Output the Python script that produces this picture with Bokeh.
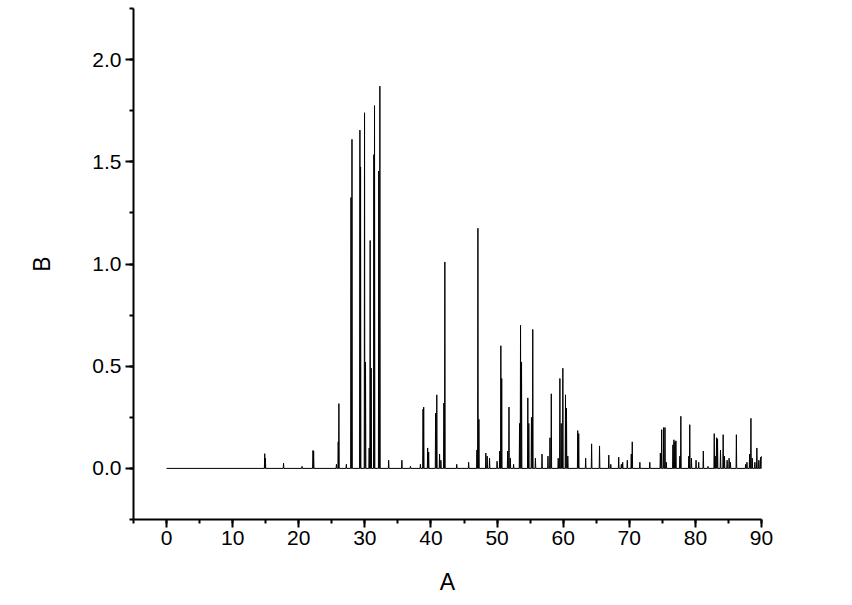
from bokeh.plotting import figure
from bokeh.models import Range1d, SingleIntervalTicker, NumeralTickFormatter, ColumnDataSource
from bokeh.embed import file_html
from bokeh.resources import INLINE

# Peak positions (A) and heights (B)
peak_pos = [14.85, 14.95, 17.7, 20.5, 22.15, 22.25, 25.7, 25.97, 26.07, 27.2,
            27.9, 28.05, 29.25, 29.35, 29.95, 30.1, 30.65, 30.8, 30.96,
            31.36, 31.46, 32.1, 32.27, 33.6, 35.6, 36.9, 38.4, 38.8, 38.9,
            39.5, 39.65, 40.7, 40.88, 41.3, 41.5, 41.95, 42.1, 43.9, 45.7,
            46.95, 47.1, 47.25, 48.3, 48.5, 48.86, 50.0, 50.4, 50.57, 50.7,
            51.6, 51.8, 52.0, 52.5, 53.4, 53.55, 53.7, 54.65, 54.8, 55.2, 55.4,
            55.8, 56.8, 57.7, 58.0, 58.2, 59.25, 59.5, 59.7, 59.95, 60.35, 60.5,
            60.7, 62.2, 62.35, 63.4, 64.3, 65.5, 66.9, 67.2, 68.4, 68.8, 69.0,
            69.7, 70.3, 70.45, 71.6, 73.1, 74.7, 74.9, 75.2, 75.4, 75.6, 76.6,
            76.75, 76.9, 77.05, 77.65, 77.8, 79.0, 79.15, 79.4, 80.1, 80.5,
            81.2, 81.9, 82.85, 83.0, 83.2, 83.35, 83.8, 84.2, 84.4, 84.8, 85.1,
            85.3, 86.2, 87.6, 87.8, 88.2, 88.4, 88.6, 89.0, 89.3, 89.6, 89.85, 90.0]
peak_height = [0.072, 0.05, 0.025, 0.01, 0.088, 0.085, 0.02, 0.13, 0.317, 0.02,
               1.325, 1.61, 1.655, 1.475, 1.74, 0.52, 0.1, 1.115, 0.49,
               1.535, 1.775, 1.455, 1.87, 0.04, 0.04, 0.01, 0.02, 0.29, 0.30,
               0.10, 0.08, 0.27, 0.36, 0.07, 0.04, 0.32, 1.01, 0.02, 0.03,
               0.09, 1.175, 0.24, 0.075, 0.06, 0.05, 0.035, 0.085, 0.60, 0.44,
               0.085, 0.30, 0.05, 0.02, 0.22, 0.70, 0.52, 0.345, 0.22, 0.25, 0.68,
               0.05, 0.07, 0.06, 0.15, 0.365, 0.05, 0.44, 0.22, 0.49, 0.36, 0.295,
               0.06, 0.185, 0.17, 0.05, 0.12, 0.11, 0.065, 0.02, 0.055, 0.02, 0.03,
               0.04, 0.07, 0.13, 0.03, 0.03, 0.075, 0.19, 0.20, 0.20, 0.03, 0.115,
               0.14, 0.13, 0.135, 0.06, 0.255, 0.06, 0.214, 0.05, 0.04, 0.03,
               0.085, 0.01, 0.17, 0.06, 0.15, 0.145, 0.09, 0.165, 0.06, 0.04, 0.05,
               0.03, 0.165, 0.02, 0.03, 0.07, 0.245, 0.05, 0.03, 0.10, 0.04, 0.055, 0.06]
x_start, x_end = 0.0, 90.0
half_width = 0.05

xs = [x_start]
ys = [0.0]
for p, h in sorted(zip(peak_pos, peak_height)):
    xs += [p - half_width, p, p + half_width]
    ys += [0.0, h, 0.0]
xs.append(x_end)
ys.append(0.0)
src = ColumnDataSource(dict(x=xs, y=ys))

p = figure(frame_width=628, frame_height=511,
           min_border_left=133, min_border_right=83,
           min_border_top=8, min_border_bottom=78,
           x_range=Range1d(-5, 90), y_range=Range1d(-0.25, 2.25),
           output_backend="svg", toolbar_location=None,
           background_fill_color="white", border_fill_color="white")
p.outline_line_color = None
p.xgrid.visible = False
p.ygrid.visible = False

p.line("x", "y", source=src, line_color="black", line_width=1)

p.xaxis.ticker = SingleIntervalTicker(interval=10, num_minor_ticks=2)
p.yaxis.ticker = SingleIntervalTicker(interval=0.5, num_minor_ticks=2)
p.yaxis.formatter = NumeralTickFormatter(format="0.0")
p.xaxis.axis_label = "A"
p.yaxis.axis_label = "B"

for ax in (p.xaxis[0], p.yaxis[0]):
    ax.axis_line_width = 2
    ax.axis_line_color = "black"
    ax.major_tick_line_width = 2
    ax.minor_tick_line_width = 2
    ax.major_tick_line_color = "black"
    ax.minor_tick_line_color = "black"
    ax.major_tick_in = 0
    ax.minor_tick_in = 0
    ax.major_tick_out = 8
    ax.minor_tick_out = 4
    ax.major_label_text_font = "Liberation Sans"
    ax.major_label_text_font_size = "21px"
    ax.major_label_text_color = "black"
    ax.axis_label_text_font = "Liberation Sans"
    ax.axis_label_text_font_size = "23px"
    ax.axis_label_text_font_style = "normal"
    ax.axis_label_text_color = "black"

p.xaxis.major_label_standoff = 3
p.yaxis.major_label_standoff = 4
p.xaxis.axis_label_standoff = 21
p.yaxis.axis_label_standoff = 34

open("out.html", "w").write(file_html(p, INLINE))
